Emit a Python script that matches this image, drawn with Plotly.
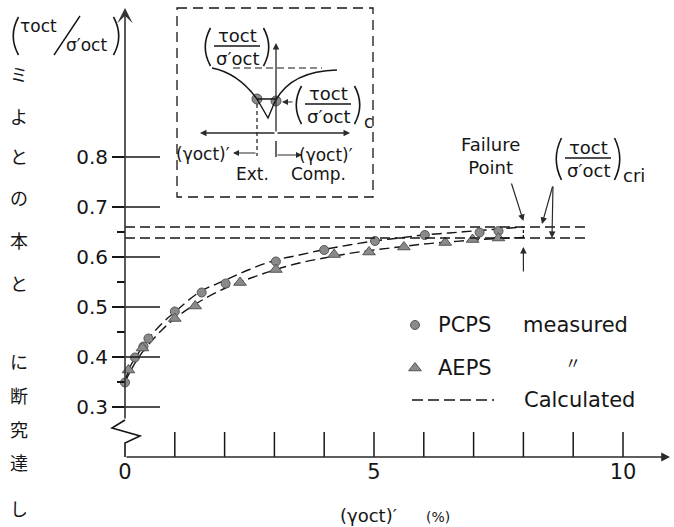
import plotly.graph_objects as go

# ---------------- data ----------------
# measured stress ratio vs. octahedral shear strain (%)
pcps_strain = [0.0, 0.2, 0.37, 0.47, 1.0, 1.54, 2.02, 3.03, 4.0, 5.02, 6.02, 7.12, 7.5]
pcps_ratio = [0.349, 0.399, 0.421, 0.437, 0.491, 0.529, 0.547, 0.591, 0.614, 0.632, 0.644, 0.649, 0.652]

aeps_strain = [0.07, 0.35, 1.0, 1.41, 2.31, 3.03, 4.2, 4.9, 5.6, 6.43, 6.98, 7.5]
aeps_ratio = [0.374, 0.418, 0.477, 0.502, 0.549, 0.575, 0.605, 0.610, 0.620, 0.629, 0.635, 0.638]

# calculated curves
calc_strain = [0, 0.1, 0.25, 0.5, 0.75, 1, 1.5, 2, 2.5, 3, 3.5, 4, 4.5, 5, 5.5, 6, 6.5, 7, 7.5, 8]
calc_pcps = [0.35, 0.38, 0.405, 0.44, 0.468, 0.49, 0.53, 0.553, 0.575, 0.593, 0.604, 0.615,
             0.624, 0.632, 0.638, 0.644, 0.648, 0.652, 0.656, 0.66]
calc_aeps = [0.35, 0.37, 0.396, 0.428, 0.455, 0.477, 0.511, 0.537, 0.557, 0.574, 0.588, 0.598,
             0.607, 0.614, 0.62, 0.626, 0.63, 0.634, 0.637, 0.639]

# critical stress ratios and failure strain
cri_ratio = [0.660, 0.638]
failure_strain = 8.0

x_ticks = [0, 1, 2, 3, 4, 5, 6, 7, 8, 9, 10]
x_tick_text = ["0", "", "", "", "", "5", "", "", "", "", "10"]
y_ticks = [0.3, 0.4, 0.5, 0.6, 0.7, 0.8]
y_tick_text = ["0.3", "0.4", "0.5", "0.6", "0.7", "0.8"]
y_minor = [0.35, 0.45, 0.55, 0.65]

margin_text = [("ミ", 74), ("よ", 116), ("と", 156), ("の", 197), ("本", 240), ("と", 283),
               ("に", 361), ("断", 395), ("究", 429), ("達", 462), ("し", 508)]

# ---------------- layout geometry ----------------
W, H = 674, 527
X0_PX, PX_PER_X = 125.0, 49.8        # pixel of strain 0, pixels per 1 %
Y03_PX, PX_PER_Y = 407.0, 500.0      # pixel of ratio 0.3, pixels per 1.0
AXIS_Y = 0.2                          # level of the broken strain axis

INK = "#161616"
MARK = "#8a8a8a"
FONT = "DejaVu Sans"


def dx(px):
    return (px - X0_PX) / PX_PER_X


def dy(py):
    return 0.3 + (Y03_PX - py) / PX_PER_Y


x_range = [dx(0), dx(W)]
y_range = [dy(H), dy(0)]

shapes = []
annotations = []


def line(x0, y0, x1, y1, width=1.5, dash="solid", color=INK):
    shapes.append(dict(type="line", xref="x", yref="y", x0=x0, y0=y0, x1=x1, y1=y1,
                       line=dict(color=color, width=width, dash=dash)))


def path(d, width=1.5, dash="solid", color=INK):
    shapes.append(dict(type="path", xref="x", yref="y", path=d,
                       line=dict(color=color, width=width, dash=dash)))


def arrow(xh, yh, xt, yt, head=2, size=1.0, width=1.3, color="#2a2a2a"):
    annotations.append(dict(x=xh, y=yh, ax=xt, ay=yt, xref="x", yref="y", axref="x", ayref="y",
                            text="", showarrow=True, arrowhead=head, arrowsize=size,
                            arrowwidth=width, arrowcolor=color, standoff=0, startstandoff=0))


def label(x, y, text, size=18, xanchor="center", family=FONT):
    annotations.append(dict(x=x, y=y, xref="x", yref="y", text=text, showarrow=False,
                            xanchor=xanchor, yanchor="middle", borderpad=0,
                            font=dict(family=family, size=size, color=INK)))


def paren(cx, top, bottom, side):
    """Thin curved bracket; side=-1 opens right '(' and side=+1 opens left ')'."""
    bulge = 7 * side
    path("M {a},{b} Q {c},{d} {e},{f}".format(
        a=dx(cx - bulge / 2), b=dy(top), c=dx(cx + bulge), d=dy((top + bottom) / 2),
        e=dx(cx - bulge / 2), f=dy(bottom)), width=1.6)


def stress_fraction(cx, cy, half, size=18, span=38, sub=None):
    """(τoct / σ'oct) drawn as a stacked fraction in parentheses, pixel units."""
    label(dx(cx), dy(cy - 11), "τoct", size)
    line(dx(cx - half), dy(cy), dx(cx + half), dy(cy), width=1.4)
    label(dx(cx), dy(cy + 12), "σ′oct", size)
    paren(cx - half - 7, cy - span / 2 + 1, cy + span / 2 + 1, -1)
    paren(cx + half + 7, cy - span / 2 + 1, cy + span / 2 + 1, 1)
    if sub:
        label(dx(cx + half + 12), dy(cy + 18), sub, size - 1, xanchor="left")


fig = go.Figure()

# ---------------- calculated curves ----------------
for ys in (calc_pcps, calc_aeps):
    fig.add_trace(go.Scatter(x=calc_strain, y=ys, mode="lines", line_shape="spline",
                             line=dict(color=INK, width=1.4, dash="10px,5px"),
                             hoverinfo="skip", showlegend=False))

# critical ratio levels
for v in cri_ratio:
    line(0, v, dx(585), v, width=1.3, dash="10px,5px")
# failure point marker between the two levels
line(failure_strain, cri_ratio[1], failure_strain, cri_ratio[0], width=1.3, dash="3px,2px")

# ---------------- measured points ----------------
fig.add_trace(go.Scatter(x=pcps_strain, y=pcps_ratio, mode="markers",
                         marker=dict(symbol="circle", size=9, color=MARK,
                                     line=dict(color="#555", width=1)),
                         showlegend=False, cliponaxis=False))
fig.add_trace(go.Scatter(x=aeps_strain, y=aeps_ratio, mode="markers",
                         marker=dict(symbol="triangle-up", size=11, color=MARK,
                                     line=dict(color="#555", width=1)),
                         showlegend=False, cliponaxis=False))

# ---------------- axes drawn by hand ----------------
# strain axis with arrow
arrow(dx(670), AXIS_Y, 0, AXIS_Y, head=2, size=1.1, width=1.6)
for t in x_ticks[1:]:
    line(t, AXIS_Y, t, dy(432), width=1.5)

# ratio axis: broken segment at the bottom, arrow at the top
path("M 0,{a} L 0,{b} L {r},{c} L {l},{d} L 0,{e}".format(
    a=AXIS_Y, b=dy(443), r=dx(140), c=dy(436), l=dx(112), d=dy(428), e=dy(420)), width=1.6)
arrow(0, dy(8), 0, dy(420), head=3, size=1.6, width=1.6, color="#333")
for v in y_ticks:
    line(0, v, dx(160), v, width=1.5)

# ---------------- axis titles ----------------
paren(15, 17, 55, -1)
label(dx(38), dy(26), "τoct", 17)
line(dx(54), dy(55), dx(80), dy(16), width=1.4)
label(dx(86), dy(45), "σ′oct", 17)
paren(117, 17, 55, 1)

label(dx(368), dy(515), "(γoct)′", 18)
label(dx(438), dy(517), "(%)", 14)

# ---------------- failure annotations ----------------
label(dx(490), dy(156), "Failure<br>Point", 18)
arrow(failure_strain, dy(221), dx(511), dy(182), head=2, size=1.1, width=1.2)
arrow(failure_strain, dy(247), failure_strain, dy(273), head=2, size=1.1, width=1.2)

stress_fraction(588, 158, 23, size=18, span=42)
label(dx(622), dy(175), "cri", 18, xanchor="left")
arrow(dx(542), dy(224), dx(553), dy(185), head=2, size=1.1, width=1.2)
arrow(dx(552), cri_ratio[1], dx(553), dy(185), head=2, size=1.1, width=1.2)

# ---------------- legend ----------------
fig.add_trace(go.Scatter(x=[dx(415)], y=[dy(325)], mode="markers",
                         marker=dict(symbol="circle", size=9, color=MARK, line=dict(color="#555", width=1)),
                         showlegend=False, hoverinfo="skip"))
fig.add_trace(go.Scatter(x=[dx(415)], y=[dy(368)], mode="markers",
                         marker=dict(symbol="triangle-up", size=11, color=MARK, line=dict(color="#555", width=1)),
                         showlegend=False, hoverinfo="skip"))
label(dx(437), dy(325), "PCPS", 21, xanchor="left")
label(dx(522), dy(325), "measured", 21, xanchor="left")
label(dx(437), dy(368), "AEPS", 21, xanchor="left")
label(dx(573), dy(362), "〃", 16, family="Noto Sans CJK JP")
line(dx(412), dy(400), dx(494), dy(400), width=1.6, dash="11px,5px")
label(dx(523), dy(400), "Calculated", 21, xanchor="left")

# ---------------- schematic inset ----------------
shapes.append(dict(type="rect", xref="x", yref="y", x0=dx(177), y0=dy(8), x1=dx(373), y1=dy(197),
                   line=dict(color=INK, width=1.3, dash="10px,6px")))
arrow(dx(276), dy(43), dx(276), dy(133), head=2, size=1.0, width=1.3)
arrow(dx(200), dy(133), dx(276), dy(133), head=2, size=1.0, width=1.3)
arrow(dx(350), dy(133), dx(276), dy(133), head=2, size=1.0, width=1.3)
line(dx(233), dy(68), dx(322), dy(68), width=1.2, dash="7px,4px")
path("M {a},{b} Q {c},{d} {e},{f}".format(a=dx(212), b=dy(68), c=dx(238), d=dy(73),
                                          e=dx(257), f=dy(99)), width=1.5)
path("M {a},{b} Q {c},{d} {e},{f}".format(a=dx(276), b=dy(100), c=dx(292), d=dy(71),
                                          e=dx(337), f=dy(70)), width=1.5)
path("M {a},{b} L {c},{d} L {e},{f} Z".format(a=dx(257), b=dy(99), c=dx(268), d=dy(118),
                                              e=dx(276), f=dy(99)), width=1.4)
fig.add_trace(go.Scatter(x=[dx(257), dx(276)], y=[dy(99), dy(101)], mode="markers",
                         marker=dict(symbol="circle", size=10, color=MARK, line=dict(color="#555", width=1)),
                         showlegend=False, hoverinfo="skip"))
arrow(dx(282), dy(102), dx(294), dy(102), head=2, size=1.0, width=1.2)
line(dx(257), dy(104), dx(257), dy(156), width=1.2, dash="4px,3px")
line(dx(276), dy(141), dx(276), dy(157), width=1.3)
arrow(dx(233), dy(153), dx(257), dy(153), head=2, size=1.0, width=1.2)
arrow(dx(302), dy(155), dx(276), dy(155), head=2, size=1.0, width=1.2)
stress_fraction(237, 46, 23, size=18, span=38)
stress_fraction(328, 104, 23, size=18, span=38, sub="c")
label(dx(203), dy(154), "(γoct)′", 17)
label(dx(326), dy(155), "(γoct)′", 17)
label(dx(252), dy(174), "Ext.", 17)
label(dx(318), dy(174), "Comp.", 17)

# ---------------- left margin text ----------------
for ch, py in margin_text:
    label(dx(19), dy(py), ch, 18, family="Noto Sans CJK JP")

fig.update_layout(
    width=W, height=H, margin=dict(l=0, r=0, t=0, b=0),
    paper_bgcolor="white", plot_bgcolor="white",
    shapes=shapes, annotations=annotations, showlegend=False,
    xaxis=dict(range=x_range, domain=[0, 1], anchor="free", position=(H - 457) / H,
               showline=False, showgrid=False, zeroline=False, ticks="",
               tickvals=x_ticks, ticktext=x_tick_text,
               tickfont=dict(family=FONT, size=21, color=INK)),
    yaxis=dict(range=y_range, domain=[0, 1], anchor="free", position=X0_PX / W,
               showline=False, showgrid=False, zeroline=False,
               ticks="outside", ticklen=13, tickwidth=1.5, tickcolor=INK,
               tickvals=y_ticks, ticktext=y_tick_text,
               tickfont=dict(family=FONT, size=20, color=INK),
               minor=dict(tickvals=y_minor, ticks="outside", ticklen=8, tickwidth=1.5,
                          tickcolor=INK, showgrid=False)),
)

fig.write_html("out.html", config={"displayModeBar": False})
